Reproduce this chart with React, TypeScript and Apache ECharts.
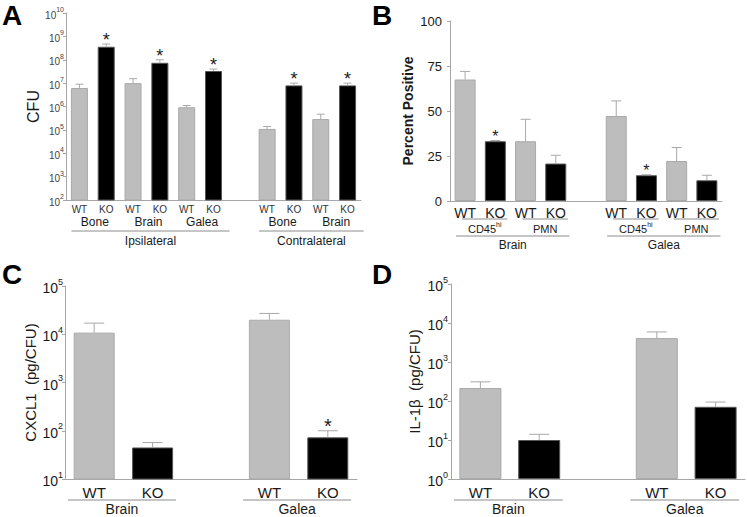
import React, { useEffect, useRef } from "react";
import * as echarts from "echarts";

const FONT = "Arial, Liberation Sans, Helvetica, sans-serif";
const GRAY = "#bdbdbd";
const BLACK = "#000000";
const AXIS = "#a6a6a6";
const ERR = "#a8a8a8";
const TEXT = "#1a1a1a";
const RULE = "#8c8c8c";

// ---------- Panel A : CFU (log) ----------
const aLabels = ["WT", "KO", "WT", "KO", "WT", "KO", "", "WT", "KO", "WT", "KO"];
const aCFU = [6.2e6, 3.6e8, 1.0e7, 7.4e7, 9.3e5, 3.3e7, null, 1.1e5, 8.0e6, 2.9e5, 8.0e6];
const aCFUUpper = [9.0e6, 4.7e8, 1.55e7, 1.0e8, 1.1e6, 4.0e7, null, 1.4e5, 1.0e7, 4.7e5, 1.0e7];
const aSignificant = [0, 1, 0, 1, 0, 1, 0, 0, 1, 0, 1];
const aTissues = [
  { name: "Bone", from: 0, to: 1 },
  { name: "Brain", from: 2, to: 3 },
  { name: "Galea", from: 4, to: 5 },
  { name: "Bone", from: 7, to: 8 },
  { name: "Brain", from: 9, to: 10 },
];
const aSides = [
  { name: "Ipsilateral", from: 0, to: 5 },
  { name: "Contralateral", from: 7, to: 10 },
];

// ---------- Panel B : Percent positive ----------
const bLabels = ["WT", "KO", "WT", "KO", "", "WT", "KO", "WT", "KO"];
const bPercent = [67.5, 33.2, 33.2, 20.8, null, 47.2, 14.3, 22.2, 11.5];
const bPercentUpper = [72, 33.6, 45.4, 25.4, null, 55.6, 14.6, 29.7, 14.3];
const bSignificant = [0, 1, 0, 0, 0, 0, 1, 0, 0];
const bCellTypes = [
  { name: "CD45", sup: "hi", from: 0, to: 1 },
  { name: "PMN", sup: "", from: 2, to: 3 },
  { name: "CD45", sup: "hi", from: 5, to: 6 },
  { name: "PMN", sup: "", from: 7, to: 8 },
];
const bTissues = [
  { name: "Brain", from: 0, to: 3 },
  { name: "Galea", from: 5, to: 8 },
];
const bTicks = [0, 25, 50, 75, 100];

// ---------- Panel C : CXCL1 ----------
const cLabels = ["WT", "KO", "", "WT", "KO"];
const cCXCL1 = [1.08e4, 45, null, 2.0e4, 73];
const cCXCL1Upper = [1.7e4, 57, null, 2.7e4, 100];
const cSignificant = [0, 0, 0, 0, 1];

// ---------- Panel D : IL-1β ----------
const dLabels = ["WT", "KO", "", "WT", "KO"];
const dIL1b = [215, 10, null, 4100, 71];
const dIL1bUpper = [310, 14, null, 5900, 94];
const dSignificant = [0, 0, 0, 0, 0];

const cdTissues = [
  { name: "Brain", from: 0, to: 1 },
  { name: "Galea", from: 3, to: 4 },
];

const barData = (labels: string[], vals: (number | null)[]) =>
  vals.map((v, i) =>
    v == null
      ? "-"
      : {
          value: v,
          itemStyle: {
            color: labels[i] === "KO" ? BLACK : GRAY,
            borderColor: labels[i] === "KO" ? "#555" : "#a9a9a9",
            borderWidth: 1,
          },
        }
  );

const errData = (vals: (number | null)[], upper: (number | null)[], sig: number[]) =>
  vals
    .map((v, i) => (v == null ? null : [i, v, upper[i] as number, sig[i]]))
    .filter((d) => d !== null) as number[][];

const errRender = (cap: number, starSize: number, starLift: number) => (params: any, api: any) => {
  const i = api.value(0);
  const top = api.coord([i, api.value(1)]);
  const hi = api.coord([i, api.value(2)]);
  const children: any[] = [
    {
      type: "line",
      shape: { x1: top[0], y1: top[1], x2: hi[0], y2: hi[1] },
      style: { stroke: ERR, lineWidth: 1 },
    },
    {
      type: "line",
      shape: { x1: hi[0] - cap, y1: hi[1], x2: hi[0] + cap, y2: hi[1] },
      style: { stroke: ERR, lineWidth: 1 },
    },
  ];
  if (api.value(3)) {
    children.push({
      type: "text",
      x: hi[0],
      y: hi[1] - starLift,
      style: {
        text: "*",
        fontSize: starSize,
        fontFamily: FONT,
        fill: TEXT,
        align: "center",
        verticalAlign: "middle",
      },
    });
  }
  return { type: "group", children };
};

const powRich = (fs: number, sfs: number, lh: number, slh: number, color: string) => ({
  b: { fontSize: fs, fontFamily: FONT, color, lineHeight: lh, verticalAlign: "bottom" },
  s: { fontSize: sfs, fontFamily: FONT, color, lineHeight: slh, verticalAlign: "top" },
});
const powLabel = (v: number) => `{b|10}{s|${Math.round(Math.log10(v))}}`;

const catAxis = (g: number, labels: string[], fs: number, margin: number, color: string) => ({
  type: "category",
  gridIndex: g,
  data: labels.map((_, i) => "c" + g + "_" + i),
  boundaryGap: true,
  axisLine: { show: true, lineStyle: { color: AXIS, width: 1 } },
  axisTick: { show: false },
  splitLine: { show: false },
  axisLabel: {
    interval: 0,
    margin,
    fontSize: fs,
    fontFamily: FONT,
    color,
    formatter: (_v: string, i: number) => labels[i],
  },
});

export default function App() {
  const ref = useRef<HTMLDivElement>(null);

  useEffect(() => {
    if (!ref.current) return;
    document.body.style.margin = "0";
    const chart = echarts.init(ref.current, null, { renderer: "svg", width: 747, height: 517 });

    const option: any = {
      animation: false,
      backgroundColor: "#ffffff",
      textStyle: { fontFamily: FONT },
      grid: [
        { left: 66, top: 13, width: 295, height: 187, containLabel: false, outerBoundsMode: "none" },
        { left: 450, top: 21, width: 272, height: 180, containLabel: false, outerBoundsMode: "none" },
        { left: 65, top: 286, width: 292, height: 193, containLabel: false, outerBoundsMode: "none" },
        { left: 451, top: 284, width: 294, height: 195, containLabel: false, outerBoundsMode: "none" },
      ],
      xAxis: [
        catAxis(0, aLabels, 10, 4, "#333"),
        catAxis(1, bLabels, 14, 5, TEXT),
        catAxis(2, cLabels, 15, 6, TEXT),
        catAxis(3, dLabels, 15, 6, TEXT),
      ],
      yAxis: [
        {
          type: "log",
          logBase: 10,
          gridIndex: 0,
          min: 1e2,
          max: 1e10,
          interval: 1,
          name: "CFU",
          nameLocation: "middle",
          nameGap: 21,
          nameRotate: 90,
          nameTextStyle: { fontSize: 16, fontFamily: FONT, color: TEXT },
          axisLine: { show: true, lineStyle: { color: AXIS } },
          axisTick: { show: true, length: 3, lineStyle: { color: AXIS } },
          splitLine: { show: false },
          minorTick: { show: false },
          axisLabel: { margin: 2, formatter: powLabel, rich: powRich(10, 7, 14, 5, "#444") },
        },
        {
          type: "value",
          gridIndex: 1,
          min: 0,
          max: 100,
          interval: 25,
          name: "Percent Positive",
          nameLocation: "middle",
          nameGap: 35,
          nameRotate: 90,
          nameTextStyle: { fontSize: 14, fontWeight: "bold", fontFamily: FONT, color: TEXT },
          axisLine: { show: true, lineStyle: { color: AXIS } },
          axisTick: { show: true, length: 3, lineStyle: { color: AXIS } },
          splitLine: { show: false },
          axisLabel: {
            margin: 8,
            fontSize: 13,
            fontFamily: FONT,
            color: TEXT,
            formatter: (v: number) => (bTicks.includes(v) ? String(v) : ""),
          },
        },
        {
          type: "log",
          logBase: 10,
          gridIndex: 2,
          min: 1e1,
          max: 1e5,
          interval: 1,
          name: "CXCL1  (pg/CFU)",
          nameLocation: "middle",
          nameGap: 27,
          nameRotate: 90,
          nameTextStyle: { fontSize: 15, fontFamily: FONT, color: TEXT },
          axisLine: { show: true, lineStyle: { color: AXIS } },
          axisTick: { show: true, length: 3, lineStyle: { color: AXIS } },
          splitLine: { show: false },
          axisLabel: { margin: 2, formatter: powLabel, rich: powRich(14, 9, 18, 6, TEXT) },
        },
        {
          type: "log",
          logBase: 10,
          gridIndex: 3,
          min: 1e0,
          max: 1e5,
          interval: 1,
          name: "IL-1β  (pg/CFU)",
          nameLocation: "middle",
          nameGap: 29,
          nameRotate: 90,
          nameTextStyle: { fontSize: 15, fontFamily: FONT, color: TEXT },
          axisLine: { show: true, lineStyle: { color: AXIS } },
          axisTick: { show: true, length: 3, lineStyle: { color: AXIS } },
          splitLine: { show: false },
          axisLabel: { margin: 3, formatter: powLabel, rich: powRich(14, 9, 18, 6, TEXT) },
        },
      ],
      series: [
        { type: "bar", xAxisIndex: 0, yAxisIndex: 0, barWidth: 17, clip: true, data: barData(aLabels, aCFU) },
        { type: "bar", xAxisIndex: 1, yAxisIndex: 1, barWidth: 21, clip: true, data: barData(bLabels, bPercent) },
        { type: "bar", xAxisIndex: 2, yAxisIndex: 2, barWidth: 41, clip: true, data: barData(cLabels, cCXCL1) },
        { type: "bar", xAxisIndex: 3, yAxisIndex: 3, barWidth: 42, clip: true, data: barData(dLabels, dIL1b) },
        {
          type: "custom",
          xAxisIndex: 0,
          yAxisIndex: 0,
          clip: false,
          z: 5,
          renderItem: errRender(4, 18, 4),
          data: errData(aCFU, aCFUUpper, aSignificant),
        },
        {
          type: "custom",
          xAxisIndex: 1,
          yAxisIndex: 1,
          clip: false,
          z: 5,
          renderItem: errRender(5, 16, 4),
          data: errData(bPercent, bPercentUpper, bSignificant),
        },
        {
          type: "custom",
          xAxisIndex: 2,
          yAxisIndex: 2,
          clip: false,
          z: 5,
          renderItem: errRender(10, 20, 5),
          data: errData(cCXCL1, cCXCL1Upper, cSignificant),
        },
        {
          type: "custom",
          xAxisIndex: 3,
          yAxisIndex: 3,
          clip: false,
          z: 5,
          renderItem: errRender(10, 20, 5),
          data: errData(dIL1b, dIL1bUpper, dSignificant),
        },
      ],
    };

    chart.setOption(option);

    // ---- group labels below the axes, positioned from the axes' own scales ----
    const yMins = [1e2, 0, 1e1, 1e0];
    const at = (g: number, idx: number) =>
      chart.convertToPixel({ gridIndex: g }, [idx, yMins[g]]) as unknown as number[];
    const catW = (g: number) => at(g, 1)[0] - at(g, 0)[0];

    const g: any[] = [];
    const hline = (x1: number, x2: number, y: number) => ({
      type: "line",
      silent: true,
      shape: { x1, y1: y, x2, y2: y },
      style: { stroke: RULE, lineWidth: 1 },
    });
    const txt = (text: string, x: number, y: number, fs: number, extra: any = {}) => ({
      type: "text",
      silent: true,
      x,
      y,
      style: {
        text,
        fontSize: fs,
        fontFamily: FONT,
        fill: TEXT,
        align: "center",
        verticalAlign: "middle",
        ...extra,
      },
    });

    // Panel A
    {
      const w = catW(0);
      const base = at(0, 0)[1];
      aTissues.forEach((t) => {
        const mid = (at(0, t.from)[0] + at(0, t.to)[0]) / 2;
        g.push(txt(t.name, mid + 2, base + 22, 12));
      });
      aSides.forEach((s) => {
        const x1 = at(0, s.from)[0] - 0.3 * w;
        const x2 = at(0, s.to)[0] + 0.6 * w;
        g.push(hline(x1, x2, base + 31));
        g.push(txt(s.name, (x1 + x2) / 2, base + 41, 12));
      });
    }
    // Panel B
    {
      const w = catW(1);
      const base = at(1, 0)[1];
      bCellTypes.forEach((c) => {
        const x1 = at(1, c.from)[0] - 0.1 * w;
        const x2 = at(1, c.to)[0] + 0.4 * w;
        g.push(hline(x1, x2, base + 18));
        g.push(
          txt(`{n|${c.name}}{s|${c.sup}}`, (x1 + x2) / 2, base + 26.5, 11, {
            rich: {
              n: { fontSize: 11, fontFamily: FONT, fill: TEXT, lineHeight: 13, verticalAlign: "bottom" },
              s: { fontSize: 7, fontFamily: FONT, fill: TEXT, lineHeight: 5, verticalAlign: "top" },
            },
          })
        );
      });
      bTissues.forEach((t) => {
        const x1 = at(1, t.from)[0] - 0.3 * w;
        const x2 = at(1, t.to)[0] + 0.45 * w;
        g.push(hline(x1, x2, base + 35));
        g.push(txt(t.name, (x1 + x2) / 2, base + 44, 12));
      });
    }
    // Panels C and D
    [2, 3].forEach((gi) => {
      const w = catW(gi);
      const base = at(gi, 0)[1];
      cdTissues.forEach((t) => {
        const x1 = at(gi, t.from)[0] - 0.45 * w;
        const x2 = at(gi, t.to)[0] + 0.4 * w;
        g.push(hline(x1, x2, base + 21));
        g.push(txt(t.name, (x1 + x2) / 2, base + 30, 14));
      });
    });

    // Panel letters
    const letter = (t: string, x: number, y: number) => ({
      type: "text",
      silent: true,
      x,
      y,
      style: {
        text: t,
        fontSize: 28,
        fontWeight: "bold",
        fontFamily: FONT,
        fill: "#000",
        align: "left",
        verticalAlign: "middle",
      },
    });
    g.push(letter("A", 2, 15));
    g.push(letter("B", 372, 15));
    g.push(letter("C", 2, 274));
    g.push(letter("D", 372, 274));

    chart.setOption({ graphic: { elements: g } });

    return () => {
      chart.dispose();
    };
  }, []);

  return (
    <div
      ref={ref}
      style={{ position: "absolute", left: 0, top: 0, width: 747, height: 517, background: "#fff" }}
    />
  );
}
